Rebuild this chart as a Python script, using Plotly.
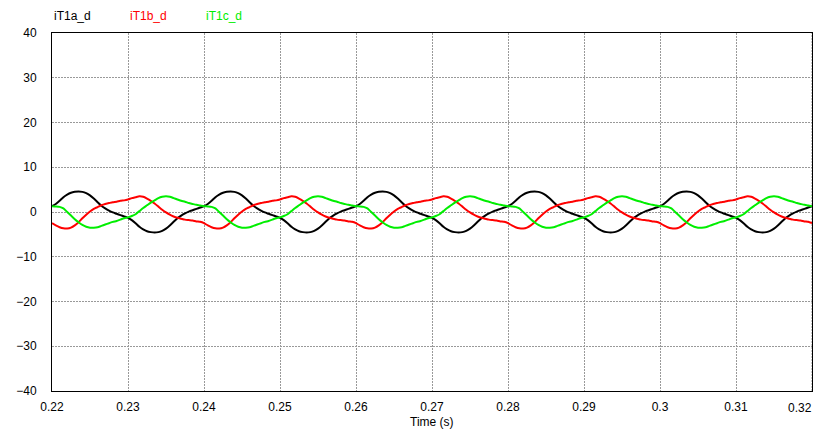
import numpy as np
import plotly.graph_objects as go

# Time grid: 0.22 s .. 0.32 s sampled every 0.5 ms
t_start, t_step, n_pts = 0.22, 0.0005, 201
time_s = np.round(t_start + t_step * np.arange(n_pts), 4)

series_names = ["iT1a_d", "iT1b_d", "iT1c_d"]

iT1a_d = [
    1.3, 1.8, 2.5, 3.3, 3.9, 4.3, 4.5, 4.6, 4.5, 4.2, 3.7, 3.0, 2.2, 1.4, 0.8, 0.3, -0.1, -0.4, -0.7, -1.0,
    -1.3, -1.8, -2.5, -3.3, -3.9, -4.3, -4.5, -4.6, -4.5, -4.2, -3.7, -3.0, -2.2, -1.4, -0.8, -0.3, 0.1, 0.4, 0.7, 1.0,
    1.3, 1.8, 2.5, 3.3, 3.9, 4.3, 4.5, 4.6, 4.5, 4.2, 3.7, 3.0, 2.2, 1.4, 0.8, 0.3, -0.1, -0.4, -0.7, -1.0,
    -1.3, -1.8, -2.5, -3.3, -3.9, -4.3, -4.5, -4.6, -4.5, -4.2, -3.7, -3.0, -2.2, -1.4, -0.8, -0.3, 0.1, 0.4, 0.7, 1.0,
    1.3, 1.8, 2.5, 3.3, 3.9, 4.3, 4.5, 4.6, 4.5, 4.2, 3.7, 3.0, 2.2, 1.4, 0.8, 0.3, -0.1, -0.4, -0.7, -1.0,
    -1.3, -1.8, -2.5, -3.3, -3.9, -4.3, -4.5, -4.6, -4.5, -4.2, -3.7, -3.0, -2.2, -1.4, -0.8, -0.3, 0.1, 0.4, 0.7, 1.0,
    1.3, 1.8, 2.5, 3.3, 3.9, 4.3, 4.5, 4.6, 4.5, 4.2, 3.7, 3.0, 2.2, 1.4, 0.8, 0.3, -0.1, -0.4, -0.7, -1.0,
    -1.3, -1.8, -2.5, -3.3, -3.9, -4.3, -4.5, -4.6, -4.5, -4.2, -3.7, -3.0, -2.2, -1.4, -0.8, -0.3, 0.1, 0.4, 0.7, 1.0,
    1.3, 1.8, 2.5, 3.3, 3.9, 4.3, 4.5, 4.6, 4.5, 4.2, 3.7, 3.0, 2.2, 1.4, 0.8, 0.3, -0.1, -0.4, -0.7, -1.0,
    -1.3, -1.8, -2.5, -3.3, -3.9, -4.3, -4.5, -4.6, -4.5, -4.2, -3.7, -3.0, -2.2, -1.4, -0.8, -0.3, 0.1, 0.4, 0.7, 1.0,
    1.3,
]

iT1b_d = [
    -2.5, -3.0, -3.4, -3.65, -3.7, -3.5, -3.0, -2.3, -1.4, -0.6, 0.1, 0.7, 1.1, 1.5, 1.8, 2.0, 2.2, 2.3, 2.5, 2.6,
    2.8, 3.1, 3.3, 3.5, 3.4, 3.0, 2.5, 1.9, 1.2, 0.5, -0.1, -0.6, -1.0, -1.3, -1.5, -1.7, -1.8, -1.9, -2.1, -2.2,
    -2.5, -3.0, -3.4, -3.65, -3.7, -3.5, -3.0, -2.3, -1.4, -0.6, 0.1, 0.7, 1.1, 1.5, 1.8, 2.0, 2.2, 2.3, 2.5, 2.6,
    2.8, 3.1, 3.3, 3.5, 3.4, 3.0, 2.5, 1.9, 1.2, 0.5, -0.1, -0.6, -1.0, -1.3, -1.5, -1.7, -1.8, -1.9, -2.1, -2.2,
    -2.5, -3.0, -3.4, -3.65, -3.7, -3.5, -3.0, -2.3, -1.4, -0.6, 0.1, 0.7, 1.1, 1.5, 1.8, 2.0, 2.2, 2.3, 2.5, 2.6,
    2.8, 3.1, 3.3, 3.5, 3.4, 3.0, 2.5, 1.9, 1.2, 0.5, -0.1, -0.6, -1.0, -1.3, -1.5, -1.7, -1.8, -1.9, -2.1, -2.2,
    -2.5, -3.0, -3.4, -3.65, -3.7, -3.5, -3.0, -2.3, -1.4, -0.6, 0.1, 0.7, 1.1, 1.5, 1.8, 2.0, 2.2, 2.3, 2.5, 2.6,
    2.8, 3.1, 3.3, 3.5, 3.4, 3.0, 2.5, 1.9, 1.2, 0.5, -0.1, -0.6, -1.0, -1.3, -1.5, -1.7, -1.8, -1.9, -2.1, -2.2,
    -2.5, -3.0, -3.4, -3.65, -3.7, -3.5, -3.0, -2.3, -1.4, -0.6, 0.1, 0.7, 1.1, 1.5, 1.8, 2.0, 2.2, 2.3, 2.5, 2.6,
    2.8, 3.1, 3.3, 3.5, 3.4, 3.0, 2.5, 1.9, 1.2, 0.5, -0.1, -0.6, -1.0, -1.3, -1.5, -1.7, -1.8, -1.9, -2.1, -2.2,
    -2.5,
]

iT1c_d = [
    1.3, 1.25, 1.15, 0.8, 0.0, -0.8, -1.6, -2.3, -2.9, -3.3, -3.5, -3.5, -3.4, -3.1, -2.8, -2.5, -2.2, -2.0, -1.7, -1.4,
    -1.2, -0.9, -0.5, 0.2, 0.9, 1.5, 2.1, 2.6, 3.1, 3.4, 3.5, 3.4, 3.1, 2.8, 2.5, 2.3, 2.0, 1.8, 1.6, 1.45,
    1.3, 1.25, 1.15, 0.8, 0.0, -0.8, -1.6, -2.3, -2.9, -3.3, -3.5, -3.5, -3.4, -3.1, -2.8, -2.5, -2.2, -2.0, -1.7, -1.4,
    -1.2, -0.9, -0.5, 0.2, 0.9, 1.5, 2.1, 2.6, 3.1, 3.4, 3.5, 3.4, 3.1, 2.8, 2.5, 2.3, 2.0, 1.8, 1.6, 1.45,
    1.3, 1.25, 1.15, 0.8, 0.0, -0.8, -1.6, -2.3, -2.9, -3.3, -3.5, -3.5, -3.4, -3.1, -2.8, -2.5, -2.2, -2.0, -1.7, -1.4,
    -1.2, -0.9, -0.5, 0.2, 0.9, 1.5, 2.1, 2.6, 3.1, 3.4, 3.5, 3.4, 3.1, 2.8, 2.5, 2.3, 2.0, 1.8, 1.6, 1.45,
    1.3, 1.25, 1.15, 0.8, 0.0, -0.8, -1.6, -2.3, -2.9, -3.3, -3.5, -3.5, -3.4, -3.1, -2.8, -2.5, -2.2, -2.0, -1.7, -1.4,
    -1.2, -0.9, -0.5, 0.2, 0.9, 1.5, 2.1, 2.6, 3.1, 3.4, 3.5, 3.4, 3.1, 2.8, 2.5, 2.3, 2.0, 1.8, 1.6, 1.45,
    1.3, 1.25, 1.15, 0.8, 0.0, -0.8, -1.6, -2.3, -2.9, -3.3, -3.5, -3.5, -3.4, -3.1, -2.8, -2.5, -2.2, -2.0, -1.7, -1.4,
    -1.2, -0.9, -0.5, 0.2, 0.9, 1.5, 2.1, 2.6, 3.1, 3.4, 3.5, 3.4, 3.1, 2.8, 2.5, 2.3, 2.0, 1.8, 1.6, 1.45,
    1.3,
]

x_ticks = [0.22, 0.23, 0.24, 0.25, 0.26, 0.27, 0.28, 0.29, 0.30, 0.31, 0.32]
x_tick_labels = ["0.22", "0.23", "0.24", "0.25", "0.26", "0.27", "0.28", "0.29", "0.3", "0.31", "0.32"]
y_ticks = [-40, -30, -20, -10, 0, 10, 20, 30, 40]
x_title = "Time (s)"

colors = ["#000000", "#ff0000", "#00ee00"]
series = [iT1a_d, iT1b_d, iT1c_d]

FONT = "Liberation Sans, Arial, sans-serif"

fig = go.Figure()
for name, vals, col in zip(series_names, series, colors):
    fig.add_trace(go.Scatter(x=time_s, y=vals, name=name, mode="lines",
                             line=dict(color=col, width=2, shape="spline", smoothing=0.6),
                             showlegend=False))

# legend-like labels at top
for i, (name, col) in enumerate(zip(series_names, colors)):
    fig.add_annotation(text=name, xref="paper", yref="paper", x=i * 0.1, y=1,
                       xanchor="left", yanchor="middle", yshift=17, showarrow=False,
                       font=dict(family=FONT, size=12, color=col))

# x-axis title
fig.add_annotation(text=x_title, xref="paper", yref="paper", x=0.5, y=0,
                   xanchor="center", yanchor="middle", yshift=-31, showarrow=False,
                   font=dict(family=FONT, size=12, color="#000000"))

# last x tick label, kept inside the picture (right-aligned at the edge)
fig.add_annotation(text=x_tick_labels[-1], xref="paper", yref="paper", x=1, y=0,
                   xanchor="right", yanchor="middle", yshift=-17, xshift=2, showarrow=False,
                   font=dict(family=FONT, size=12, color="#000000"))

axis_common = dict(showgrid=True, gridcolor="#999999", griddash="2px,1px", gridwidth=1,
                   showline=True, linecolor="#000000", linewidth=1, mirror=True,
                   zeroline=False, ticks="", automargin=False,
                   tickfont=dict(family=FONT, size=12, color="#000000"))

fig.update_xaxes(range=[0.22, 0.32], tickvals=x_ticks[:-1], ticktext=x_tick_labels[:-1],
                 ticklabelstandoff=5, **axis_common)
fig.update_yaxes(range=[-40, 40], tickvals=y_ticks, ticklabelstandoff=12, **axis_common)

# gridline at the last x tick (its label is drawn separately)
fig.add_vline(x=x_ticks[-1], line=dict(color="#999999", width=1, dash="2px,1px"), layer="below")

fig.update_layout(width=816, height=429, margin=dict(l=52, r=4, t=33, b=38, autoexpand=False),
                  plot_bgcolor="#ffffff", paper_bgcolor="#ffffff")

fig.write_html("out.html", config={"displayModeBar": False},
               post_script="document.body.style.margin='0';document.body.style.padding='0';"
                           "document.body.style.overflow='hidden';")
